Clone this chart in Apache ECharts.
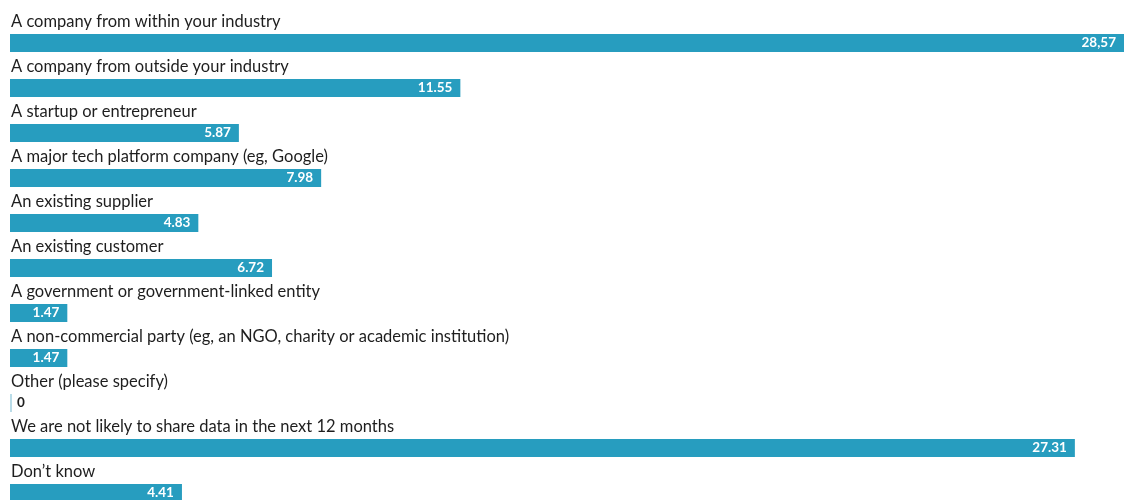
<!DOCTYPE html>
<html>
<head>
<meta charset="utf-8">
<script src="https://cdn.jsdelivr.net/npm/echarts@6/dist/echarts.min.js"></script>
<style>
  html, body { margin: 0; padding: 0; background: #ffffff; }
  #chart { width: 1131px; height: 500px; }
</style>
</head>
<body>
<div id="chart"></div>
<script>
// Who respondents expect to share data with (share of responses, %)
const categories = [
  'A company from within your industry',
  'A company from outside your industry',
  'A startup or entrepreneur',
  'A major tech platform company (eg, Google)',
  'An existing supplier',
  'An existing customer',
  'A government or government-linked entity',
  'A non-commercial party (eg, an NGO, charity or academic institution)',
  'Other (please specify)',
  'We are not likely to share data in the next 12 months',
  'Don\u2019t know'
];
const values = [28.57, 11.55, 5.87, 7.98, 4.83, 6.72, 1.47, 1.47, 0, 27.31, 4.41];
const valueLabels = ['28,57', '11.55', '5.87', '7.98', '4.83', '6.72', '1.47', '1.47', '0', '27.31', '4.41'];

const BAR = '#279dbf';
const INK = '#1e1e1e';

const chart = echarts.init(document.getElementById('chart'), null, { renderer: 'canvas' });

chart.setOption({
  animation: false,
  backgroundColor: '#ffffff',
  grid: { left: 10, right: 7, top: 43, bottom: 7, containLabel: false },
  xAxis: {
    type: 'value',
    min: 0,
    max: 28.57,
    show: false
  },
  yAxis: {
    type: 'category',
    inverse: true,
    boundaryGap: false,
    data: categories,
    show: false
  },
  series: [
    {
      // the bars with their values at the end
      type: 'bar',
      clip: false,
      barWidth: 18,
      barMinHeight: 2,
      data: values.map(v => ({
        value: v,
        itemStyle: { color: v === 0 ? '#b9dce8' : BAR },
        label: v === 0
          ? { position: 'right', distance: 5, color: INK }
          : { position: 'insideRight', distance: 8, color: '#ffffff' }
      })),
      label: {
        show: true,
        fontFamily: 'Lato',
        fontWeight: 'bold',
        fontSize: 13.5,
        formatter: p => valueLabels[p.dataIndex]
      },
      z: 2
    },
    {
      // category names sitting just above each bar
      type: 'bar',
      clip: false,
      barWidth: 18,
      barGap: '-100%',
      data: values,
      itemStyle: { color: 'rgba(0,0,0,0)' },
      silent: true,
      label: {
        show: true,
        position: [1, -12],
        align: 'left',
        verticalAlign: 'middle',
        color: INK,
        fontFamily: 'Lato',
        fontSize: 16.5,
        formatter: p => categories[p.dataIndex]
      },
      z: 3
    }
  ]
});
</script>
</body>
</html>
